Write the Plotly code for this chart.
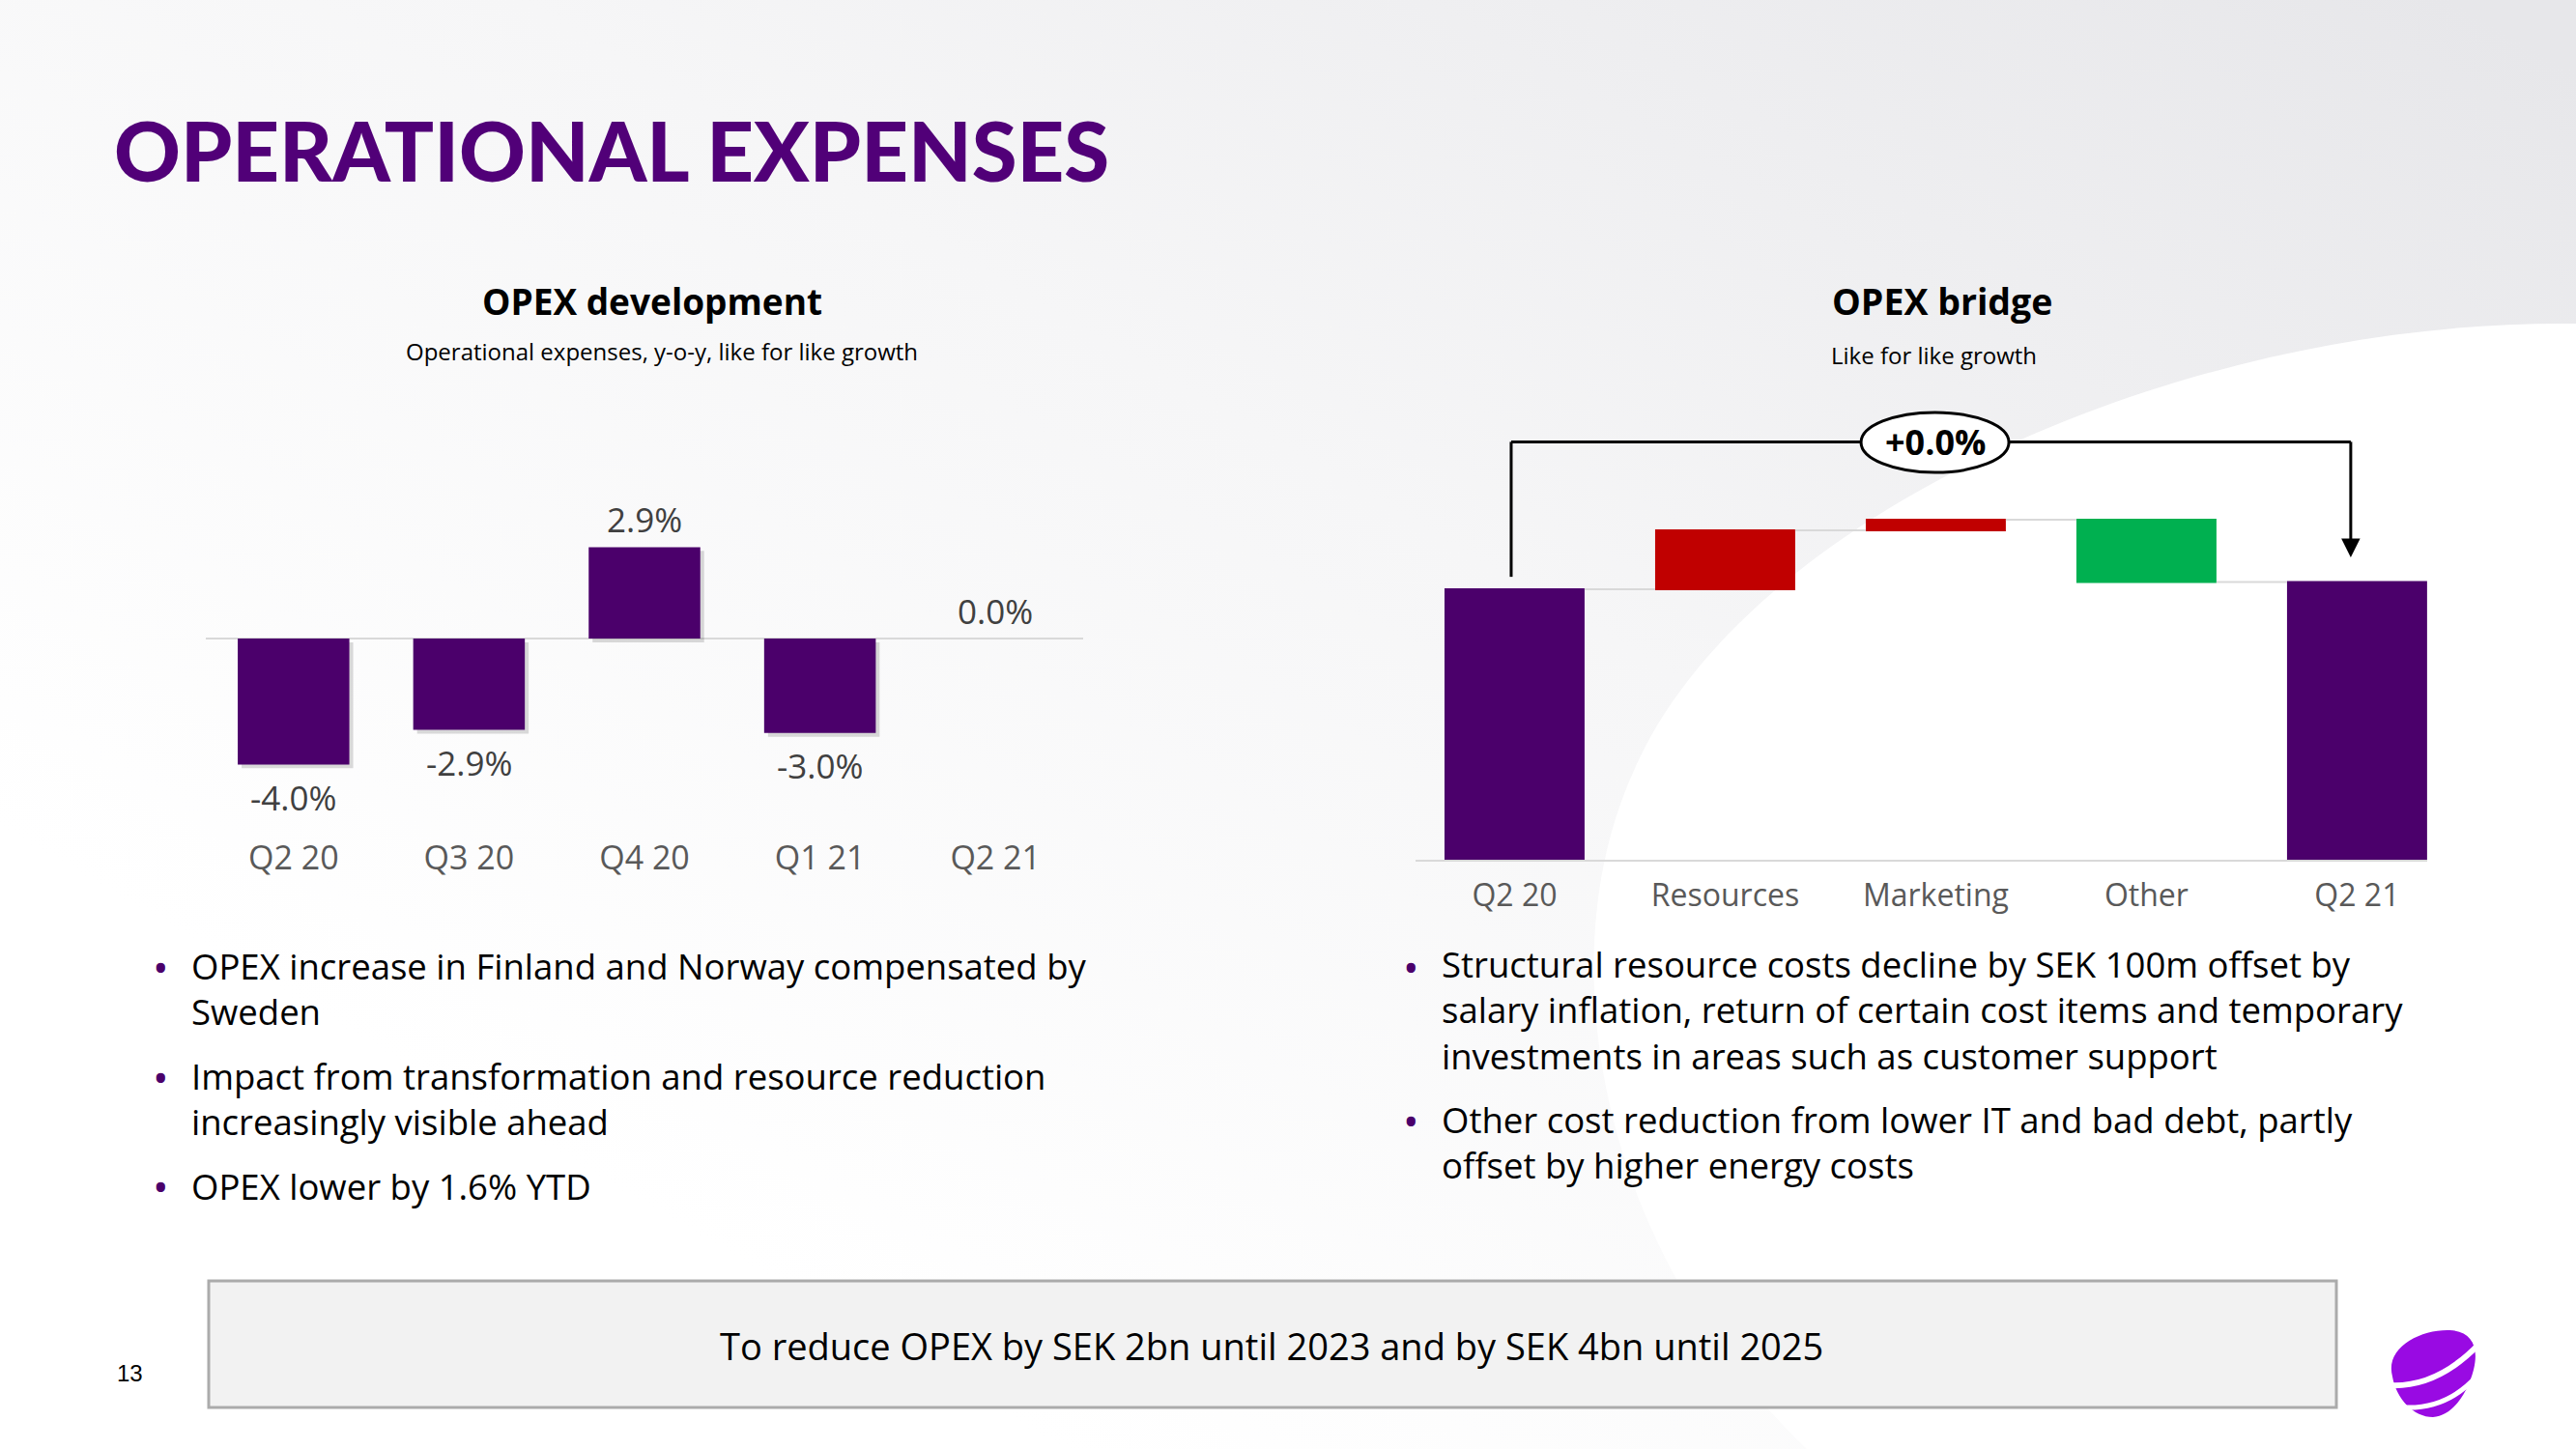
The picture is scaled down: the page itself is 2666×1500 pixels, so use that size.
import base64
import plotly.graph_objects as go

W, H = 2666, 1500

# ---------------- data ----------------
dev_quarters = ["Q2 20", "Q3 20", "Q4 20", "Q1 21", "Q2 21"]
dev_growth = [-4.0, -2.9, 2.9, -3.0, 0.0]

bridge_cats = ["Q2 20", "Resources", "Marketing", "Other", "Q2 21"]
bridge_measure = ["absolute", "relative", "relative", "relative", "total"]
bridge_values = [100.0, 21.8, 3.9, -23.0, 0.0]
bridge_total_label = "+0.0%"

title_text = "OPERATIONAL EXPENSES"
left_title = "OPEX development"
left_subtitle = "Operational expenses, y-o-y, like for like growth"
right_title = "OPEX bridge"
right_subtitle = "Like for like growth"

left_bullets = [
    ["OPEX increase in Finland and Norway compensated by", "Sweden"],
    ["Impact from transformation and resource reduction", "increasingly visible ahead"],
    ["OPEX lower by 1.6% YTD"],
]
right_bullets = [
    ["Structural resource costs decline by SEK 100m offset by",
     "salary inflation, return of certain cost items and temporary",
     "investments in areas such as customer support"],
    ["Other cost reduction from lower IT and bad debt, partly",
     "offset by higher energy costs"],
]
target_text = "To reduce OPEX by SEK 2bn until 2023 and by SEK 4bn until 2025"
page_number = "13"

# ---------------- style ----------------
PURPLE = "#4B006B"
TITLE_PURPLE = "#510078"
FONT = "Open Sans"


def px(x):
    return x / W


def py(y):
    return 1 - y / H


fig = go.Figure()

# ---- left chart: bar shadow + bars ----
BW = 0.636
fig.add_trace(go.Bar(
    x=dev_quarters, y=dev_growth, base=[-0.12] * len(dev_growth),
    width=BW, offset=-BW / 2 + 0.022,
    marker=dict(color="rgba(0,0,0,0.14)", line=dict(width=0)),
    hoverinfo="skip", xaxis="x", yaxis="y",
))
fig.add_trace(go.Bar(
    x=dev_quarters, y=dev_growth, width=BW, offset=-BW / 2,
    marker=dict(color=PURPLE, line=dict(width=0)),
    xaxis="x", yaxis="y",
))

# ---- right chart: waterfall ----
fig.add_trace(go.Waterfall(
    x=bridge_cats, y=bridge_values, measure=bridge_measure,
    width=0.665, xaxis="x2", yaxis="y2",
    increasing=dict(marker=dict(color="#C00000")),
    decreasing=dict(marker=dict(color="#00B050")),
    totals=dict(marker=dict(color=PURPLE)),
    connector=dict(line=dict(color="#d9d9d9", width=2)),
    textinfo="none",
))

# ---- axes ----
L_PX_PER = 32.6
L_ZERO = 661
L_TOP, L_BOT = 520, 853
R_PX_PER = 2.8
R_TOP, R_BOT = 420, 890

fig.update_layout(
    width=W, height=H,
    margin=dict(l=0, r=0, t=0, b=0),
    paper_bgcolor="white", plot_bgcolor="rgba(0,0,0,0)",
    showlegend=False, barmode="overlay",
    xaxis=dict(domain=[px(213), px(1121)], range=[-0.5, 4.5], type="category",
               showgrid=False, zeroline=False, showline=False, ticks="",
               ticklabelstandoff=12,
               tickfont=dict(family=FONT, size=34, color="#595959")),
    yaxis=dict(domain=[py(L_BOT), py(L_TOP)],
               range=[-(L_BOT - L_ZERO) / L_PX_PER, (L_ZERO - L_TOP) / L_PX_PER],
               showgrid=False, showticklabels=False, ticks="",
               zeroline=True, zerolinecolor="#d9d9d9", zerolinewidth=2),
    xaxis2=dict(domain=[px(1465), px(2512)], range=[-0.47, 4.333], type="category",
                showgrid=False, zeroline=False, showline=True, linecolor="#d9d9d9",
                linewidth=2, ticks="", anchor="y2", ticklabelstandoff=8,
                tickfont=dict(family=FONT, size=32, color="#595959")),
    yaxis2=dict(domain=[py(R_BOT), py(R_TOP)], range=[0, (R_BOT - R_TOP) / R_PX_PER],
                showgrid=False, showticklabels=False, zeroline=False, anchor="x2"),
)

ann = []
# data labels left chart
for q, v in zip(dev_quarters, dev_growth):
    ann.append(dict(x=q, y=v, xref="x", yref="y", text=f"{v:.1f}%",
                    showarrow=False, yanchor="middle", xanchor="center",
                    yshift=29 if v >= 0 else -34,
                    font=dict(family=FONT, size=35, color="#404040")))

# bracket on bridge
q20_top = bridge_values[0]
q21_top = sum(v for v, m in zip(bridge_values, bridge_measure) if m != "total")
br_y = 154.5
xl, xr = -0.016, 3.97
shapes = []
shapes.append(dict(type="line", xref="x2", yref="y2", x0=xl, x1=xl, y0=q20_top + 4.6, y1=br_y,
                   line=dict(color="black", width=3)))
shapes.append(dict(type="line", xref="x2", yref="y2", x0=xl, x1=xr, y0=br_y, y1=br_y,
                   line=dict(color="black", width=3)))
shapes.append(dict(type="line", xref="x2", yref="y2", x0=xr, x1=xr, y0=br_y, y1=q21_top + 14,
                   line=dict(color="black", width=3)))
shapes.append(dict(type="circle", xref="x2", yref="y2", x0=1.645, x1=2.347, y0=143.2, y1=165.4,
                   fillcolor="white", line=dict(color="black", width=3)))
ann.append(dict(x=xr, y=q21_top + 9.1, xref="x2", yref="y2", ax=xr, ay=q21_top + 16,
                axref="x2", ayref="y2", text=" ", showarrow=True, arrowhead=2,
                arrowsize=1.3, arrowwidth=3, arrowcolor="black"))
ann.append(dict(x=(1.645 + 2.347) / 2, y=(143.2 + 165.4) / 2, xref="x2", yref="y2",
                xanchor="center", yanchor="middle",
                text=f"<b>{bridge_total_label}</b>", showarrow=False,
                font=dict(family=FONT, size=36, color="black")))

# bottom box
shapes.append(dict(type="rect", xref="paper", yref="paper", x0=px(216), x1=px(2418),
                   y0=py(1457), y1=py(1326), fillcolor="#f2f2f2",
                   line=dict(color="#ababab", width=3), layer="below"))


def text_at(x, y, text, size, color="black", family=FONT, xanchor="center", weight=None,
            align="center"):
    f = dict(family=family, size=size, color=color)
    if weight:
        f["weight"] = weight
    ann.append(dict(x=px(x), y=py(y), xref="paper", yref="paper", text=text, align=align,
                    showarrow=False, xanchor=xanchor, yanchor="middle", font=f))


# titles
text_at(116, 155, title_text, 85, TITLE_PURPLE, "Lato", "left", 900)
text_at(675, 311, f"<b>{left_title}</b>", 37)
text_at(685, 363, left_subtitle, 24)
text_at(2010, 311, f"<b>{right_title}</b>", 37.5)
text_at(2001, 367, right_subtitle, 24)

# bullets
LH = 44.5


def add_bullets(items, first_ys, x_dot, x_text):
    for lines, y0 in zip(items, first_ys):
        text_at(x_dot, y0, "•", 44, PURPLE)
        yc = y0 + (len(lines) - 1) * LH / 2
        text_at(x_text, yc, "<br>".join(lines), 36.5, "black", FONT, "left", align="left")


add_bullets(left_bullets, [1001, 1115, 1228], 166, 196)
add_bullets(right_bullets, [1001, 1160], 1460, 1490)

text_at(1316, 1393, target_text, 38)
text_at(134, 1421, page_number, 24, "black", "Liberation Sans")

# background decoration (gradient + curve + logo)
bg_svg = """<svg xmlns="http://www.w3.org/2000/svg" width="2666" height="1500" viewBox="0 0 2666 1500">
<defs><linearGradient id="g" x1="0.22" y1="0.8" x2="1" y2="0.05">
<stop offset="0" stop-color="#ffffff"/><stop offset="0.5" stop-color="#f6f6f7"/>
<stop offset="1" stop-color="#e7e7ea"/></linearGradient></defs>
<rect width="2666" height="1500" fill="url(#g)"/>
<path d="M 2666 335 C 2250 330 1800 540 1690 800 C 1600 1000 1660 1300 1870 1500 L 2666 1500 Z" fill="#ffffff"/>
<path d="M 2476 1425 C 2468 1395 2505 1376 2535 1377 C 2558 1378 2566 1394 2560 1418 C 2554 1442 2538 1466 2518 1467 C 2498 1467 2480 1448 2476 1425 Z" fill="#990AE3"/>
<path d="M 2472 1434 Q 2522 1437 2566 1391" stroke="#ffffff" stroke-width="6" fill="none"/>
<path d="M 2488 1457 Q 2532 1459 2563 1425" stroke="#ffffff" stroke-width="5" fill="none"/>
</svg>"""
src = "data:image/svg+xml;base64," + base64.b64encode(bg_svg.encode()).decode()
fig.update_layout(
    images=[dict(source=src, xref="paper", yref="paper", x=0, y=1, sizex=1, sizey=1,
                 xanchor="left", yanchor="top", sizing="stretch", layer="below")],
    annotations=ann, shapes=shapes,
)

fig.write_html("out.html")
